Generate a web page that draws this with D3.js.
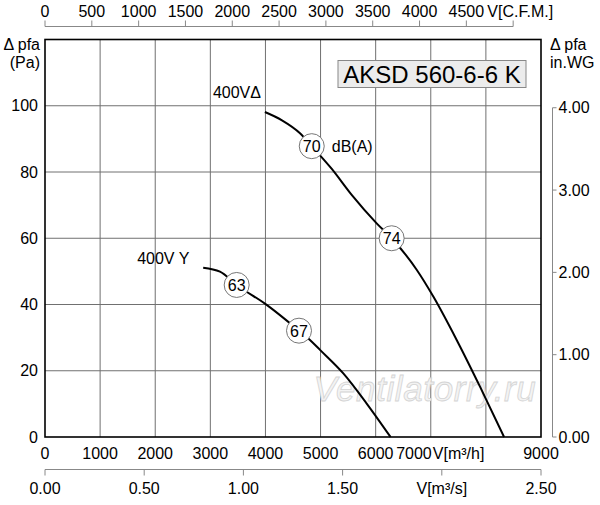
<!doctype html>
<html>
<head>
<meta charset="utf-8">
<script src="https://cdn.jsdelivr.net/npm/d3@7"></script>
<style>
  body { margin: 0; background: #fff; }
  svg { font-family: "Liberation Sans", Arial, sans-serif; }
</style>
</head>
<body>
<script>
// Curve 400V delta: flow in m3/h, pressure in Pa
const deltaFlow = [3990, 4300, 4627, 4840, 5200, 5565, 6018, 6290, 6744, 7046, 7470, 7893, 8330];
const deltaPres = [98.1, 95.6, 91.7, 87.8, 81.0, 73.1, 64.5, 60.0, 50.5, 42.4, 29.3, 15.2, 0];
// Curve 400V Y
const starFlow = [2870, 3175, 3478, 4022, 4609, 4808, 4990, 5413, 5837, 6270];
const starPres = [51.1, 49.9, 45.9, 39.9, 32.1, 29.3, 26.3, 19.2, 10.1, 0];
// noise markers dB(A)
const noiseFlow = [4840, 6290, 3478, 4609];
const noisePres = [87.8, 60.0, 45.9, 32.1];
const noiseText = ["70", "74", "63", "67"];

const flowTicks = [0, 1000, 2000, 3000, 4000, 5000, 6000, 7000, 8000, 9000];
const presTicks = [0, 20, 40, 60, 80, 100];
const cfmTicks = [0, 500, 1000, 1500, 2000, 2500, 3000, 3500, 4000, 4500, 5000];
const m3sTicks = [0, 0.5, 1.0, 1.5, 2.0, 2.5];
const wgTicks = [0, 1, 2, 3, 4];

const width = 600, height = 505, fs = 16;
const svg = d3.select("body").append("svg").attr("width", width).attr("height", height);

const x = d3.scaleLinear().domain([0, 9000]).range([45, 541]);
const y = d3.scaleLinear().domain([0, 120]).range([437, 39.5]);
const xCfm = d3.scaleLinear().domain([0, 9000 / 1.699]).range(x.range());
const xM3s = d3.scaleLinear().domain([0, 2.5]).range(x.range());
const yWg = d3.scaleLinear().domain([0, 120 / 24.85]).range(y.range());

// grid
svg.append("g").selectAll("line").data(flowTicks.slice(1, -1)).join("line")
    .attr("x1", d => x(d)).attr("x2", d => x(d)).attr("y1", y(0)).attr("y2", y(120))
    .attr("stroke", "#707070").attr("stroke-width", 1);
svg.append("g").selectAll("line").data(presTicks.slice(1)).join("line")
    .attr("x1", x(0)).attr("x2", x(9000)).attr("y1", d => y(d)).attr("y2", d => y(d))
    .attr("stroke", "#707070").attr("stroke-width", 1);

// watermark
svg.append("text").attr("x", x(4870)).attr("y", y(11.0))
    .attr("font-style", "italic").attr("font-size", 35).attr("letter-spacing", 0.6)
    .attr("fill", "#f3f3f3").attr("stroke", "#d4d4d4").attr("stroke-width", 0.8)
    .text("Ventilatorry.ru");

// plot frame
svg.append("rect").attr("x", x(0)).attr("y", y(120)).attr("width", x(9000) - x(0)).attr("height", y(0) - y(120))
    .attr("fill", "none").attr("stroke", "#000").attr("stroke-width", 1.6);

// left axis labels
svg.append("g").selectAll("text").data(presTicks).join("text")
    .attr("x", 38).attr("y", d => y(d) + 5.5).attr("text-anchor", "end")
    .attr("font-size", fs).text(d => d);
svg.append("text").attr("x", 40).attr("y", 50).attr("text-anchor", "end").attr("font-size", fs).text("\u0394 pfa");
svg.append("text").attr("x", 40).attr("y", 68).attr("text-anchor", "end").attr("font-size", fs).text("(Pa)");

// bottom m3/h labels
svg.append("g").selectAll("text").data(flowTicks.filter(d => d !== 8000 && d !== 7000)).join("text")
    .attr("x", d => x(d)).attr("y", 459).attr("text-anchor", "middle")
    .attr("font-size", fs).text(d => d);
svg.append("text").attr("x", x(7000) + 1).attr("y", 459).attr("text-anchor", "end").attr("font-size", fs).text("7000");
svg.append("text").attr("x", x(7000) + 2).attr("y", 459).attr("font-size", fs).text("V[m\u00b3/h]");

// bottom m3/s axis
const gS = svg.append("g").attr("transform", "translate(0,469.5)");
gS.append("line").attr("x1", xM3s(0)).attr("x2", xM3s(2.5)).attr("stroke", "#888");
gS.selectAll("line.t").data(m3sTicks).join("line").attr("class", "t")
    .attr("x1", d => xM3s(d)).attr("x2", d => xM3s(d)).attr("y1", 0).attr("y2", 6).attr("stroke", "#888");
gS.selectAll("text").data(m3sTicks).join("text")
    .attr("x", d => xM3s(d)).attr("y", 24.5).attr("text-anchor", "middle").attr("font-size", fs)
    .text(d => d === 2 ? "V[m\u00b3/s]" : d3.format(".2f")(d));

// top CFM axis
const gT = svg.append("g").attr("transform", "translate(0,26.5)");
gT.append("line").attr("x1", xCfm(0)).attr("x2", xCfm(5000)).attr("stroke", "#888");
gT.selectAll("line.t").data(cfmTicks).join("line").attr("class", "t")
    .attr("x1", d => xCfm(d)).attr("x2", d => xCfm(d)).attr("y1", 0).attr("y2", -6).attr("stroke", "#888");
gT.selectAll("text").data(cfmTicks.slice(0, -1)).join("text")
    .attr("x", d => xCfm(d)).attr("y", -10).attr("text-anchor", "middle").attr("font-size", fs)
    .text(d => d);
gT.append("text").attr("x", xCfm(4500) + 21).attr("y", -10).attr("font-size", fs).text("V[C.F.M.]");

// right in.WG axis
const gR = svg.append("g").attr("transform", "translate(552.5,0)");
gR.append("line").attr("y1", yWg(0)).attr("y2", yWg(4)).attr("stroke", "#888");
gR.selectAll("line.t").data(wgTicks).join("line").attr("class", "t")
    .attr("y1", d => yWg(d)).attr("y2", d => yWg(d)).attr("x1", 0).attr("x2", 4).attr("stroke", "#888");
gR.selectAll("text").data(wgTicks).join("text")
    .attr("x", 6).attr("y", d => yWg(d) + 5.5).attr("font-size", fs).text(d => d3.format(".2f")(d));
svg.append("text").attr("x", 550).attr("y", 50).attr("font-size", fs).text("\u0394 pfa");
svg.append("text").attr("x", 550).attr("y", 68).attr("font-size", fs).text("in.WG");

// title box
svg.append("rect").attr("x", 338).attr("y", 60.5).attr("width", 188).attr("height", 27)
    .attr("fill", "#ececec").attr("stroke", "#888");
svg.append("text").attr("x", 432).attr("y", 82.5).attr("text-anchor", "middle").attr("font-size", 24)
    .text("AKSD 560-6-6 K");

// curves
const line = d3.line().x(d => x(d[0])).y(d => y(d[1])).curve(d3.curveMonotoneX);
svg.append("path").datum(d3.zip(deltaFlow, deltaPres)).attr("d", line)
    .attr("fill", "none").attr("stroke", "#000").attr("stroke-width", 2);
svg.append("path").datum(d3.zip(starFlow, starPres)).attr("d", line)
    .attr("fill", "none").attr("stroke", "#000").attr("stroke-width", 2);

// curve labels
svg.append("text").attr("x", x(3990) - 52).attr("y", y(98.1) - 14).attr("font-size", fs).text("400V\u0394");
svg.append("text").attr("x", x(2870) - 66).attr("y", y(51.1) - 4).attr("font-size", fs).text("400V Y");

// noise markers
const gN = svg.append("g").selectAll("g").data(d3.range(noiseText.length)).join("g")
    .attr("transform", i => `translate(${x(noiseFlow[i])},${y(noisePres[i])})`);
gN.append("circle").attr("r", 12.5).attr("fill", "#fff").attr("stroke", "#666").attr("stroke-width", 0.9);
gN.append("text").attr("y", 6).attr("text-anchor", "middle").attr("font-size", fs).text(i => noiseText[i]);
svg.append("text").attr("x", x(4840) + 20).attr("y", y(87.8) + 6).attr("font-size", fs).text("dB(A)");
</script>
</body>
</html>
